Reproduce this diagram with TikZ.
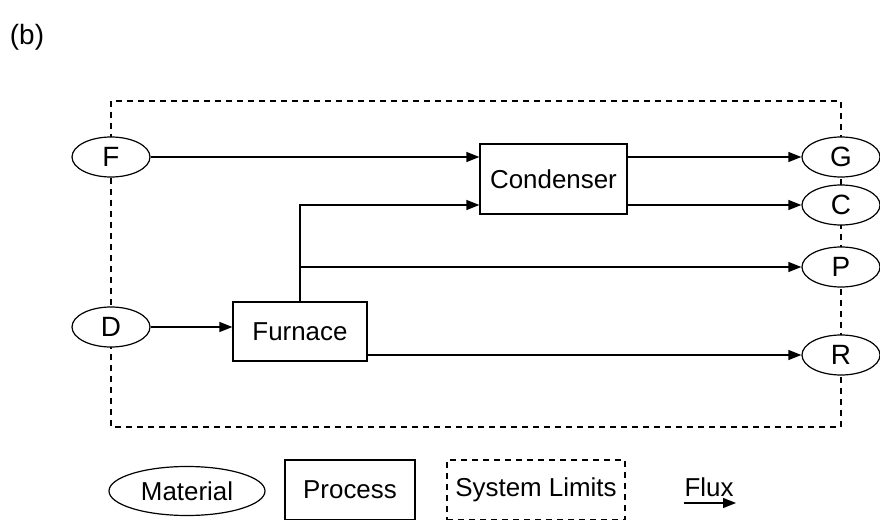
\documentclass[tikz,border=0pt]{standalone}
\usepackage{fontspec}
\setmainfont{Liberation Sans}
\usetikzlibrary{shapes.geometric,arrows.meta}
\begin{document}
\begin{tikzpicture}[x=1bp,y=-1bp,
  every node/.style={font=\fontsize{26}{30}\selectfont},
  mat/.style={draw,ellipse,fill=white,line width=1.2bp,minimum width=78bp,minimum height=40bp,inner sep=0pt},
  big/.style={font=\fontsize{28}{32}\selectfont},
  proc/.style={draw,rectangle,fill=white,line width=1.2bp,inner sep=0pt},
  limit/.style={draw,dashed,line width=1.1bp,dash pattern=on 6bp off 5bp},
  flux/.style={line width=1.2bp,-{Triangle[length=13bp,width=10bp]}}]
\useasboundingbox (0,0) rectangle (880,520);
\node[big] (lab) at (27,37) {(b)};
% system limits
\draw[limit] (111,101) rectangle (841,427);
% materials
\node[mat,big] (F) at (111,157) {F};
\node[mat,big] (D) at (111,327) {D};
\node[mat,big] (G) at (841,157) {G};
\node[mat,big] (C) at (841,205) {C};
\node[mat,big] (P) at (841,267) {P};
\node[mat,big] (R) at (841,355) {R};
% processes
\node[proc,minimum width=147bp,minimum height=70bp] (cond) at (553.5,179) {Condenser};
\node[proc,minimum width=134bp,minimum height=59bp] (furn) at (300,331.5) {Furnace};
% fluxes
\draw[flux] (F.east) -- (F -| cond.west);
\draw[flux] (cond.east |- G) -- (G.west);
\draw[flux] (cond.east |- C) -- (C.west);
\draw[flux] (furn.north) |- (cond.west |- C);
\draw[flux] (furn.north |- P) -- (P.west);
\draw[flux] (D.east) -- (D -| furn.west);
\draw[flux] (furn.east |- R) -- (R.west);
% legend
\node[mat,minimum width=156bp,minimum height=49bp] (lmat) at (187,491) {Material};
\node[proc,minimum width=130bp,minimum height=60bp] (lproc) at (350,490) {Process};
\node[limit,minimum width=178bp,minimum height=60bp,inner sep=0pt] (llim) at (536,490) {System Limits};
\coordinate (fa) at (684,503);
\coordinate (fb) at (736,503);
\draw[flux] (fa) -- (fb);
\node[anchor=south] (lflux) at (709,500) {Flux};
\end{tikzpicture}
\end{document}
